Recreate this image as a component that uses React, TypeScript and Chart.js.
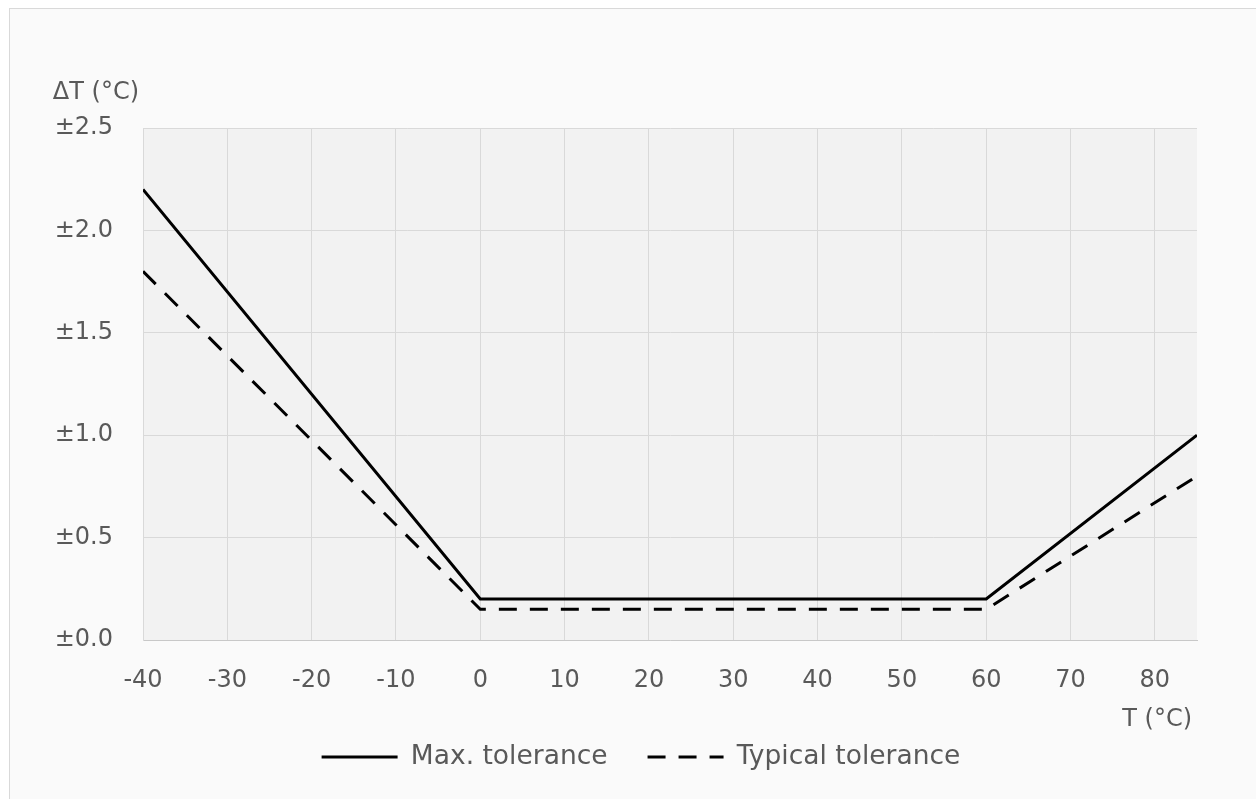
import React, { useEffect, useRef } from "react";
import { Chart, registerables } from "chart.js";

Chart.register(...registerables);

const temperatures = [-40, 0, 60, 85];
const maxTolerance = [2.2, 0.2, 0.2, 1.0];
const typicalTolerance = [1.8, 0.15, 0.15, 0.8];
const seriesNames = ["Max. tolerance", "Typical tolerance"];
const yAxisTitle = "ΔT (°C)";
const xAxisTitle = "T (°C)";

const FONT = "'DejaVu Sans', 'Open Sans', sans-serif";
const TEXT = "#595959";
const DASH = [18, 13];

const plotBg = {
  id: "plotBg",
  beforeDraw(chart: any) {
    const { ctx, chartArea } = chart;
    ctx.save();
    ctx.fillStyle = "#f2f2f2";
    ctx.fillRect(chartArea.left, chartArea.top, chartArea.right - chartArea.left, chartArea.bottom - chartArea.top);
    ctx.restore();
  },
};

const axisTitles = {
  id: "axisTitles",
  afterDraw(chart: any) {
    const { ctx, chartArea } = chart;
    ctx.save();
    ctx.fillStyle = TEXT;
    ctx.font = `24px ${FONT}`;
    ctx.textAlign = "right";
    ctx.textBaseline = "middle";
    ctx.fillText(yAxisTitle, chartArea.left - 4, chartArea.top - 35);
    ctx.fillText(xAxisTitle, chartArea.right - 5, chartArea.bottom + 80);
    ctx.restore();
  },
};

export default function App() {
  const ref = useRef<HTMLCanvasElement>(null);
  useEffect(() => {
    if (!ref.current) return;
    const chart = new Chart(ref.current, {
      type: "line",
      data: {
        datasets: [
          {
            label: seriesNames[0],
            data: temperatures.map((t, i) => ({ x: t, y: maxTolerance[i] })),
            borderColor: "#000",
            backgroundColor: "#000",
            borderWidth: 3,
            pointRadius: 0,
            pointStyle: "line",
            tension: 0,
          },
          {
            label: seriesNames[1],
            data: temperatures.map((t, i) => ({ x: t, y: typicalTolerance[i] })),
            borderColor: "#000",
            backgroundColor: "#000",
            borderWidth: 3,
            borderDash: DASH,
            pointRadius: 0,
            pointStyle: "line",
            tension: 0,
          },
        ],
      },
      options: {
        responsive: false,
        animation: false,
        layout: { padding: { left: 26, top: 128, right: 0, bottom: 18.75 } },
        scales: {
          x: {
            type: "linear",
            min: -40,
            max: 85,
            afterFit: (s: any) => {
              s.height = 63.75;
            },
            ticks: {
              stepSize: 10,
              includeBounds: false,
              color: TEXT,
              font: { family: FONT, size: 24 },
              padding: 26,
              maxRotation: 0,
            },
            grid: { color: "#d9d9d9", lineWidth: 1, drawTicks: false },
            border: { color: "#c8c8c8", width: 1 },
          },
          y: {
            min: 0,
            max: 2.5,
            afterFit: (s: any) => {
              s.width = 117;
            },
            ticks: {
              stepSize: 0.5,
              color: TEXT,
              font: { family: FONT, size: 24 },
              padding: 30,
              callback: (v: any) => "±" + Number(v).toFixed(1),
            },
            grid: { color: "#d9d9d9", lineWidth: 1, drawTicks: false },
            border: { color: "#d9d9d9", width: 1 },
          },
          yRight: {
            position: "right",
            min: 0,
            max: 2.5,
            afterFit: (s: any) => {
              s.width = 59;
            },
            ticks: { display: false },
            grid: { display: false, drawOnChartArea: false, drawTicks: false },
            border: { display: false },
          },
        },
        plugins: {
          legend: {
            position: "bottom",
            labels: {
              usePointStyle: true,
              pointStyle: "line",
              pointStyleWidth: 76,
              color: TEXT,
              font: { family: FONT, size: 26.5 },
              padding: 40,
              generateLabels: (c: any) =>
                (Chart.defaults.plugins.legend.labels.generateLabels as any)(c).map((l: any, i: number) => ({
                  ...l,
                  lineWidth: 3,
                  lineDash: i === 1 ? DASH : [],
                  strokeStyle: "#000",
                  fillStyle: "#000",
                })),
            },
          },
          tooltip: { enabled: false },
        },
      },
      plugins: [plotBg, axisTitles],
    });
    return () => chart.destroy();
  }, []);

  return (
    <div style={{ position: "fixed", left: 0, top: 0, width: 1256, height: 799, background: "#fff", overflow: "hidden" }}>
      <div
        style={{
          position: "absolute",
          left: 9,
          top: 8,
          width: 1260,
          height: 800,
          border: "1px solid #d9d9d9",
          background: "#fafafa",
        }}
      />
      <canvas ref={ref} width={1256} height={799} style={{ position: "absolute", left: 0, top: 0, width: 1256, height: 799 }} />
    </div>
  );
}
